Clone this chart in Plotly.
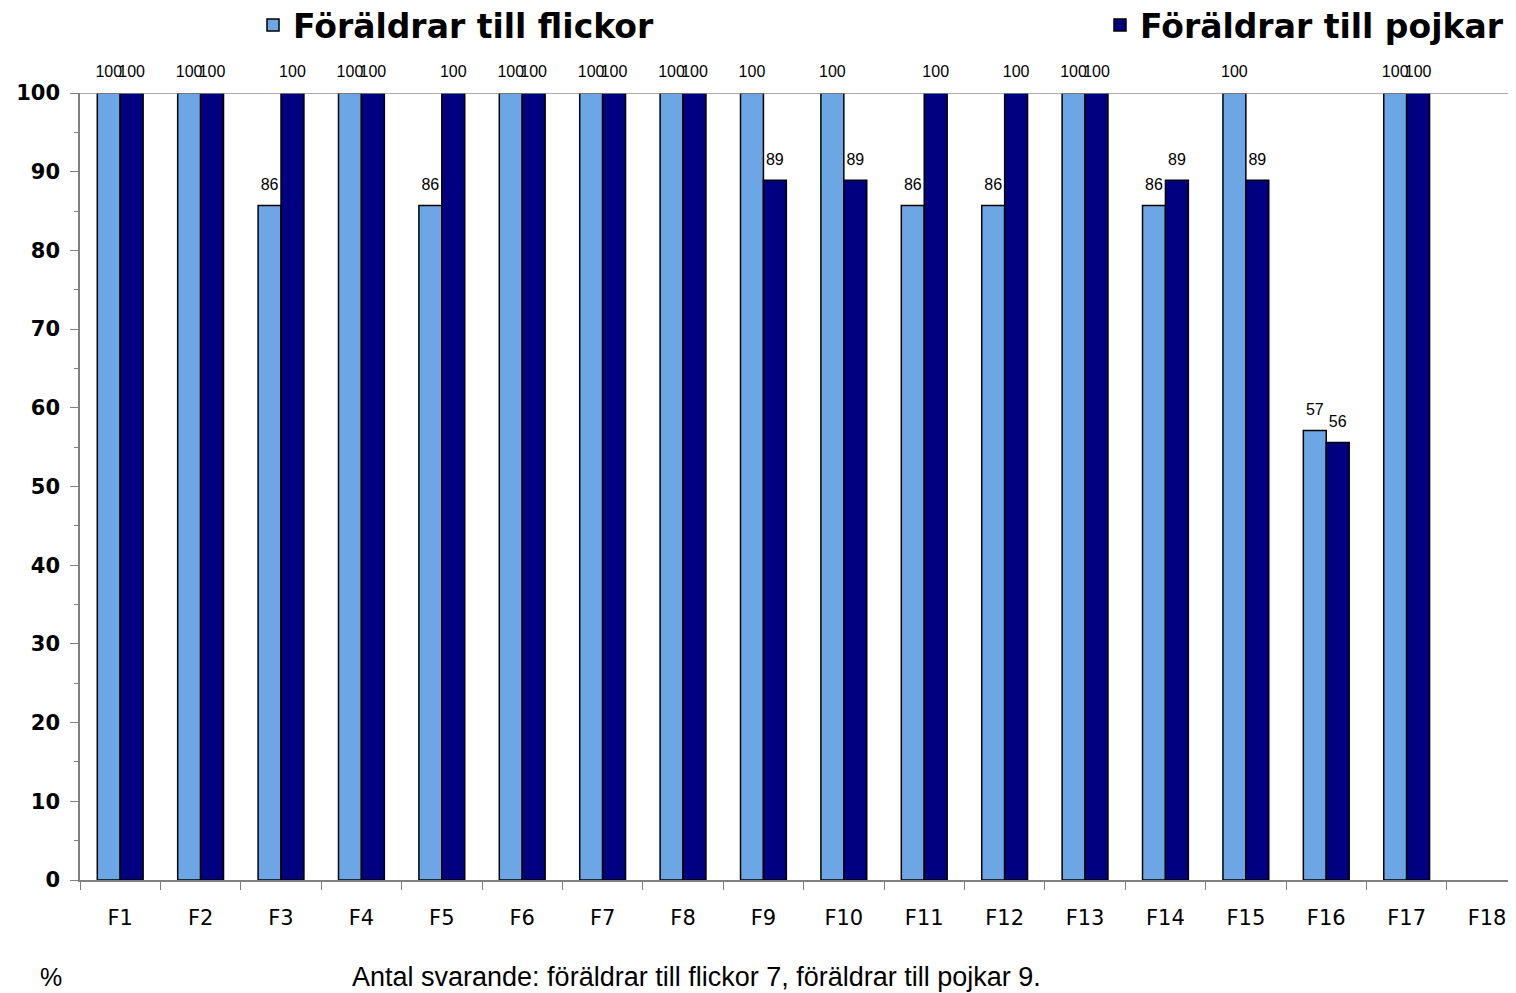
import plotly.graph_objects as go

categories = ["F1", "F2", "F3", "F4", "F5", "F6", "F7", "F8", "F9",
              "F10", "F11", "F12", "F13", "F14", "F15", "F16", "F17", "F18"]
flickor = [100, 100, 85.7, 100, 85.7, 100, 100, 100, 100,
           100, 85.7, 85.7, 100, 85.7, 100, 57.1, 100, None]
pojkar = [100, 100, 100, 100, 100, 100, 100, 100, 88.9,
          88.9, 100, 100, 100, 88.9, 88.9, 55.6, 100, None]
series_names = ["Föräldrar till flickor", "Föräldrar till pojkar"]
y_ticks = [0, 10, 20, 30, 40, 50, 60, 70, 80, 90, 100]
footer_unit = "%"
footer_note = "Antal svarande: föräldrar till flickor 7, föräldrar till pojkar 9."

# the page body has an 8px default margin; compensate so the screen matches
OFF = 8
W, H = 1516 - OFF, 993 - OFF
ML, MR, MT, MB = 80 - OFF, 0, 93 - OFF, 113
PW = W - ML - MR
PH = H - MT - MB

def px_x(x):  # screen x -> paper x
    return (x - OFF - ML) / PW

def px_y(y):  # screen y -> paper y
    return (H - MB - (y - OFF)) / PH

label_font = dict(family="Liberation Sans, Arial", size=16, color="black")
colors = ["#6CA6E4", "#000080"]
legends = ["legend", "legend2"]

fig = go.Figure()
for vals, name, col, lg in zip([flickor, pojkar], series_names, colors, legends):
    fig.add_trace(go.Bar(
        x=categories, y=vals, name=name,
        marker=dict(color=col, line=dict(color="black", width=1.5)),
        legend=lg,
    ))
for vals in [flickor, pojkar]:
    fig.add_trace(go.Scatter(
        x=categories, y=vals, mode="markers+text",
        text=[None if v is None else f"{v:.0f}" for v in vals],
        textposition="top center", textfont=label_font,
        marker=dict(size=17, color="rgba(0,0,0,0)"),
        cliponaxis=False, showlegend=False, hoverinfo="skip",
    ))

legend_font = dict(family="DejaVu Sans", size=33, color="black", weight="bold")

fig.update_layout(
    width=W, height=H,
    margin=dict(l=ML, r=MR, t=MT, b=MB, pad=0, autoexpand=False),
    paper_bgcolor="white", plot_bgcolor="white",
    barmode="group", bargap=0.43, bargroupgap=0,
    scattermode="group", scattergap=0.43,
    showlegend=True,
    legend=dict(x=px_x(253), xanchor="left", y=px_y(25), yanchor="middle",
                font=legend_font, bgcolor="rgba(0,0,0,0)", itemwidth=30),
    legend2=dict(x=px_x(1100), xanchor="left", y=px_y(25), yanchor="middle",
                 font=legend_font, bgcolor="rgba(0,0,0,0)", itemwidth=30),
    xaxis=dict(
        type="category", range=[-0.5, 17.36],
        showline=True, linecolor="#808080", linewidth=1.5,
        ticks="outside", tickson="boundaries", ticklen=8, tickcolor="#808080",
        tickfont=dict(family="DejaVu Sans", size=21, color="black"),
        ticklabelstandoff=18, showgrid=False, zeroline=False,
    ),
    yaxis=dict(
        range=[0, 100], tickvals=y_ticks,
        showline=True, linecolor="#808080", linewidth=1.5,
        ticks="outside", ticklen=8, tickcolor="#808080",
        minor=dict(dtick=5, ticks="outside", ticklen=4, tickcolor="#808080", showgrid=False),
        tickfont=dict(family="DejaVu Sans", size=21, color="black", weight="bold"),
        ticklabelstandoff=6, showgrid=False, zeroline=False,
    ),
    shapes=[dict(type="line", xref="paper", yref="y", x0=0, x1=1, y0=100, y1=100,
                 line=dict(color="#909090", width=1.5))],
    annotations=[
        dict(text=footer_unit, xref="paper", yref="paper", x=px_x(38), y=px_y(977),
             xanchor="left", yanchor="middle", showarrow=False,
             font=dict(family="Liberation Sans, Arial", size=25, color="black")),
        dict(text=footer_note, xref="paper", yref="paper", x=px_x(350), y=px_y(977),
             xanchor="left", yanchor="middle", showarrow=False,
             font=dict(family="Liberation Sans, Arial", size=27, color="black")),
    ],
)

fig.write_html("out.html")
